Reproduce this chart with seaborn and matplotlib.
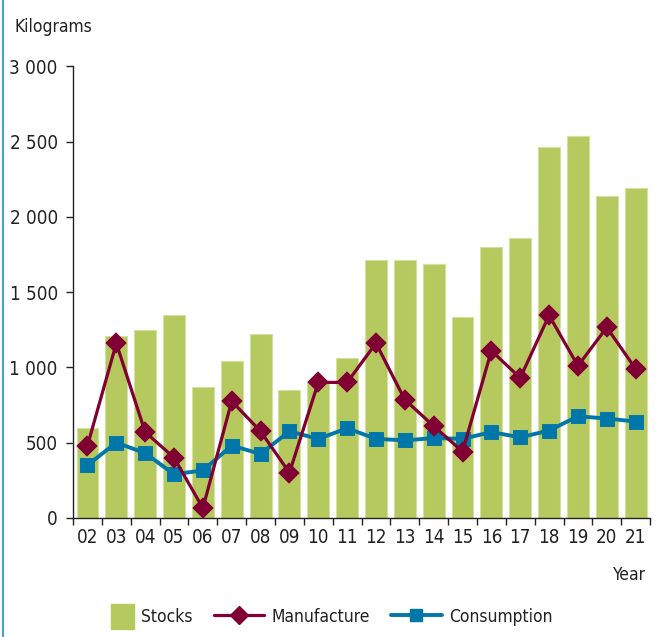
import matplotlib
matplotlib.use("Agg")
import matplotlib.pyplot as plt
import seaborn as sns
import pandas as pd
from matplotlib.lines import Line2D
from matplotlib.patches import Patch, Rectangle
from matplotlib.legend_handler import HandlerPatch

years = ["02", "03", "04", "05", "06", "07", "08", "09", "10", "11",
         "12", "13", "14", "15", "16", "17", "18", "19", "20", "21"]
stocks = [600, 1210, 1250, 1345, 870, 1040, 1220, 850, 900, 1065,
          1710, 1715, 1685, 1335, 1800, 1860, 2465, 2535, 2135, 2190]
manufacture = [480, 1160, 570, 400, 65, 775, 575, 300, 900, 900,
               1160, 785, 610, 440, 1110, 930, 1345, 1010, 1265, 990]
consumption = [350, 500, 430, 290, 315, 480, 425, 575, 525, 595,
               525, 515, 530, 525, 570, 535, 580, 675, 660, 640]
yticks = [0, 500, 1000, 1500, 2000, 2500, 3000]
ytick_labels = ["0", "500", "1 000", "1 500", "2 000", "2 500", "3 000"]

GREEN = "#b5c95f"
MAROON = "#800033"
BLUE = "#0077a8"
TXT = "#222222"

df = pd.DataFrame({"year": years, "stocks": stocks,
                   "manufacture": manufacture, "consumption": consumption})

sns.set_theme(style="white")
plt.rcParams["font.family"] = ["DejaVu Sans"]
plt.rcParams["font.stretch"] = "condensed"

fig = plt.figure(figsize=(6.64, 6.37), dpi=100)
ax = fig.add_axes([0.11, 0.187, 0.869, 0.709])

sns.barplot(data=df, x="year", y="stocks", color=GREEN, width=0.76,
            edgecolor="#d4e0a0", linewidth=0.8, saturation=1, ax=ax, zorder=1)
sns.pointplot(data=df, x="year", y="manufacture", color=MAROON, markers="D",
              linestyles="-", markersize=9, linewidth=2.3, ax=ax, zorder=3)
sns.pointplot(data=df, x="year", y="consumption", color=BLUE, markers="s",
              linestyles="-", markersize=8.5, linewidth=2.8, ax=ax, zorder=2)

n = len(years)
ax.set_xlim(-0.5, n - 0.5)
ax.set_ylim(0, 3000)
ax.set_yticks(yticks)
ax.set_yticklabels(ytick_labels, fontsize=13.5, color=TXT)
ax.set_xticks(range(n))
ax.set_xticklabels(years, fontsize=13.5, color=TXT)
ax.tick_params(axis="x", length=0, pad=7)
ax.tick_params(axis="y", length=5, width=1, color=TXT, left=True, pad=6)
ax.set_xticks([i - 0.5 for i in range(n + 1)], minor=True)
ax.tick_params(axis="x", which="minor", length=5, width=1, color=TXT, bottom=True)
ax.set_xlabel("")
ax.set_ylabel("")
for s in ["top", "right"]:
    ax.spines[s].set_visible(False)
for s in ["left", "bottom"]:
    ax.spines[s].set_color(TXT)
    ax.spines[s].set_linewidth(1)
ax.grid(False)

fig.text(15 / 664, 1 - 27 / 637, "Kilograms", fontsize=12.5, color=TXT,
         ha="left", va="center")
fig.text(645 / 664, 1 - 575 / 637, "Year", fontsize=12.5, color=TXT,
         ha="right", va="center")


def narrow_patch(legend, orig_handle, xdescent, ydescent, width, height, fontsize):
    w = height * 1.25
    return Rectangle((-xdescent + width - w, -ydescent - height * 0.2),
                     w, height * 1.4)


handles = [
    Patch(facecolor=GREEN, edgecolor=GREEN),
    Line2D([0], [0], color=MAROON, marker="D", markersize=9, linewidth=2.3),
    Line2D([0], [0], color=BLUE, marker="s", markersize=8.5, linewidth=2.8),
]
fig.legend(handles, ["Stocks", "Manufacture", "Consumption"], loc="center",
           bbox_to_anchor=(0.479, 1 - 617 / 637), ncol=3, frameon=False,
           fontsize=12.5, handlelength=2.9, handleheight=1.2, columnspacing=1.2,
           handletextpad=0.45, labelcolor=TXT,
           handler_map={Patch: HandlerPatch(patch_func=narrow_patch)})

fig.add_artist(Line2D([3 / 664, 3 / 664], [0, 1], color="#4a9fd0",
                      linewidth=1.5, transform=fig.transFigure))

fig.savefig("out.png", dpi=100)
